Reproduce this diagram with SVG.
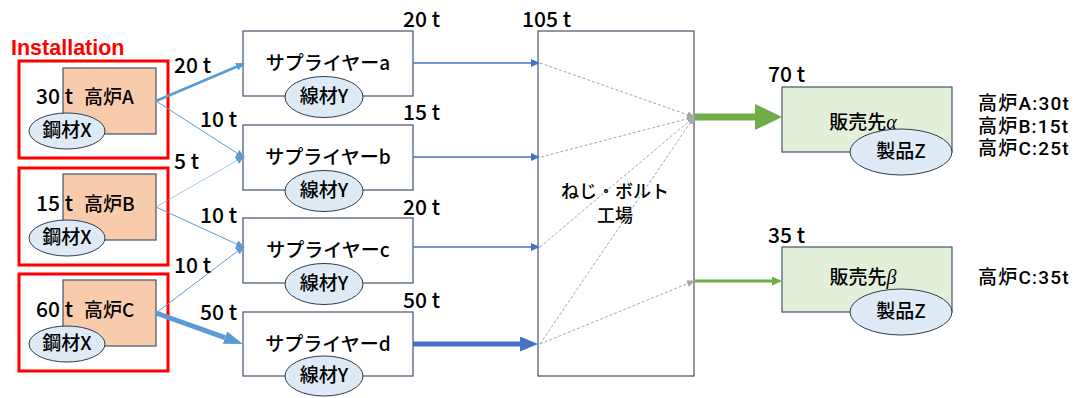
<svg xmlns="http://www.w3.org/2000/svg" width="1083" height="398" viewBox="0 0 1083 398">
<style>
.jp{font-family:"Noto Sans CJK JP","Liberation Sans",sans-serif;font-size:19px;font-weight:500;fill:#000}
.num{font-family:"Noto Sans CJK JP","Liberation Sans",sans-serif;font-size:21px;font-weight:500;fill:#000}
.rt{font-family:Roboto,"Noto Sans CJK JP",sans-serif;font-size:19px;font-weight:500;letter-spacing:1.2px;fill:#000}
.fac{font-family:Roboto,"Noto Sans CJK JP",sans-serif;font-size:18px;font-weight:500;fill:#000}
.red{fill:none;stroke:#FF0000;stroke-width:3}
.furn{fill:#F8CBAD;stroke:#44546A;stroke-width:1.2}
.mat{fill:#DEEBF7;stroke:#2F3B4C;stroke-width:1}
.box{fill:#fff;stroke:#44546A;stroke-width:1.2}
.sale{fill:#E2F0D9;stroke:#44546A;stroke-width:1.2}
.lb{stroke:#5B9BD5;fill:none}
.db{stroke:#4472C4;fill:none}
.gr{stroke:#A6A6A6;stroke-width:1;stroke-dasharray:3 2;fill:none}
.gn{stroke:#70AD47;fill:none}
</style>
<defs>
<marker id="mBlueS" markerUnits="userSpaceOnUse" markerWidth="9" markerHeight="8" refX="7" refY="4" orient="auto"><path d="M0,0 L9,4 L0,8 z" fill="#5B9BD5"/></marker>
<marker id="mBlueL" markerUnits="userSpaceOnUse" markerWidth="19" markerHeight="13" refX="0" refY="6.5" orient="auto"><path d="M0,0 L19,6.5 L0,13 z" fill="#5B9BD5"/></marker>
<marker id="mDarkS" markerUnits="userSpaceOnUse" markerWidth="9" markerHeight="8" refX="7" refY="4" orient="auto"><path d="M0,0 L9,4 L0,8 z" fill="#4472C4"/></marker>
<marker id="mDarkL" markerUnits="userSpaceOnUse" markerWidth="18" markerHeight="15" refX="0" refY="7.5" orient="auto"><path d="M0,0 L18,7.5 L0,15 z" fill="#4472C4"/></marker>
<marker id="mGray" markerUnits="userSpaceOnUse" markerWidth="8" markerHeight="7" refX="7" refY="3.5" orient="auto"><path d="M0,0 L8,3.5 L0,7 z" fill="#A6A6A6"/></marker>
<marker id="mGreenL" markerUnits="userSpaceOnUse" markerWidth="27" markerHeight="26" refX="0" refY="13" orient="auto"><path d="M0,0 L27,13 L0,26 z" fill="#70AD47"/></marker>
<marker id="mGreenS" markerUnits="userSpaceOnUse" markerWidth="10" markerHeight="9" refX="0" refY="4.5" orient="auto"><path d="M0,0 L10,4.5 L0,9 z" fill="#70AD47"/></marker>
</defs>

<text x="11" y="55" font-family="Liberation Sans, sans-serif" font-size="21.5" font-weight="bold" fill="#FF0000">Installation</text>

<g id="furnaceA">
<rect class="red" x="19" y="61" width="149" height="97"/>
<rect class="furn" x="63" y="68" width="93" height="66"/>
<text class="num" x="36" y="104">30 t</text>
<text class="jp" x="84" y="104">高炉A</text>
<ellipse class="mat" cx="67" cy="131" rx="38" ry="18"/>
<text class="jp" x="67" y="137" text-anchor="middle">鋼材X</text>
</g>
<g id="furnaceB">
<rect class="red" x="19" y="168" width="149" height="97"/>
<rect class="furn" x="63" y="174" width="93" height="66"/>
<text class="num" x="36" y="211">15 t</text>
<text class="jp" x="84" y="211">高炉B</text>
<ellipse class="mat" cx="67" cy="238" rx="38" ry="18"/>
<text class="jp" x="67" y="244" text-anchor="middle">鋼材X</text>
</g>
<g id="furnaceC">
<rect class="red" x="19" y="274" width="149" height="97"/>
<rect class="furn" x="63" y="280" width="93" height="66"/>
<text class="num" x="36" y="317">60 t</text>
<text class="jp" x="84" y="317">高炉C</text>
<ellipse class="mat" cx="67" cy="344" rx="38" ry="18"/>
<text class="jp" x="67" y="350" text-anchor="middle">鋼材X</text>
</g>

<g id="supplierA">
<rect class="box" x="243" y="31" width="170" height="65"/>
<text class="jp" x="328" y="70" text-anchor="middle">サプライヤーa</text>
<ellipse class="mat" cx="324" cy="97" rx="39" ry="20.5"/>
<text class="jp" x="324" y="103" text-anchor="middle">線材Y</text>
<text class="num" x="403" y="27">20 t</text>
</g>
<g id="supplierB">
<rect class="box" x="243" y="125" width="170" height="65"/>
<text class="jp" x="328" y="164" text-anchor="middle">サプライヤーb</text>
<ellipse class="mat" cx="324" cy="191" rx="39" ry="20.5"/>
<text class="jp" x="324" y="197" text-anchor="middle">線材Y</text>
<text class="num" x="403" y="120">15 t</text>
</g>
<g id="supplierC">
<rect class="box" x="243" y="218" width="170" height="65"/>
<text class="jp" x="328" y="257" text-anchor="middle">サプライヤーc</text>
<ellipse class="mat" cx="324" cy="284" rx="39" ry="20.5"/>
<text class="jp" x="324" y="290" text-anchor="middle">線材Y</text>
<text class="num" x="403" y="215">20 t</text>
</g>
<g id="supplierD">
<rect class="box" x="243" y="312" width="170" height="64"/>
<text class="jp" x="328" y="351" text-anchor="middle">サプライヤーd</text>
<ellipse class="mat" cx="324" cy="376" rx="39" ry="20"/>
<text class="jp" x="324" y="382" text-anchor="middle">線材Y</text>
<text class="num" x="403" y="308">50 t</text>
</g>

<g id="factory">
<rect class="box" x="538" y="31" width="156" height="345" stroke="#2F3B5C"/>
<text class="fac" x="615" y="198" text-anchor="middle">ねじ・ボルト</text>
<text class="fac" x="615" y="222" text-anchor="middle">工場</text>
<text class="num" x="522" y="27">105 t</text>
</g>

<g id="customerAlpha">
<rect class="sale" x="782" y="87" width="170" height="65"/>
<text class="jp" x="863" y="129" text-anchor="middle">販売先<tspan font-family="Liberation Serif, serif" font-style="italic" font-size="20">α</tspan></text>
<ellipse class="mat" cx="901" cy="152" rx="51" ry="23"/>
<text class="jp" x="901" y="158" text-anchor="middle">製品Z</text>
<text class="num" x="768" y="82">70 t</text>
<text class="rt" x="978" y="110">高炉A:30t</text>
<text class="rt" x="978" y="132.5">高炉B:15t</text>
<text class="rt" x="978" y="155">高炉C:25t</text>
</g>
<g id="customerBeta">
<rect class="sale" x="782" y="247" width="170" height="65"/>
<text class="jp" x="863" y="284" text-anchor="middle">販売先<tspan font-family="Liberation Serif, serif" font-style="italic" font-size="20">β</tspan></text>
<ellipse class="mat" cx="901" cy="312" rx="51" ry="23"/>
<text class="jp" x="901" y="318" text-anchor="middle">製品Z</text>
<text class="num" x="768" y="243">35 t</text>
<text class="rt" x="978" y="284">高炉C:35t</text>
</g>

<g id="connectors">
<line class="lb" x1="156" y1="101" x2="243" y2="64" stroke-width="2.5" marker-end="url(#mBlueS)"/>
<line class="lb" x1="156" y1="101" x2="243" y2="157" stroke-width="1" marker-end="url(#mBlueS)"/>
<line class="lb" x1="156" y1="207" x2="243" y2="157" stroke-width="0.8" stroke-opacity="0.7" marker-end="url(#mBlueS)"/>
<line class="lb" x1="156" y1="207" x2="243" y2="247" stroke-width="1" marker-end="url(#mBlueS)"/>
<line class="lb" x1="156" y1="313" x2="243" y2="247" stroke-width="1" marker-end="url(#mBlueS)"/>
<line class="lb" x1="156" y1="313" x2="225" y2="337.6" stroke-width="5" marker-end="url(#mBlueL)"/>
<text class="num" x="174" y="73">20 t</text>
<text class="num" x="200" y="127">10 t</text>
<text class="num" x="174" y="169">5 t</text>
<text class="num" x="200" y="223">10 t</text>
<text class="num" x="174" y="273">10 t</text>
<text class="num" x="200" y="320">50 t</text>

<line class="db" x1="413" y1="63" x2="538" y2="63" stroke-width="1.5" marker-end="url(#mDarkS)"/>
<line class="db" x1="413" y1="157" x2="538" y2="157" stroke-width="1.5" marker-end="url(#mDarkS)"/>
<line class="db" x1="413" y1="247" x2="538" y2="247" stroke-width="1.5" marker-end="url(#mDarkS)"/>
<line class="db" x1="413" y1="344" x2="520" y2="344" stroke-width="5" marker-end="url(#mDarkL)"/>

<line class="gr" x1="540" y1="63" x2="694" y2="117" marker-end="url(#mGray)"/>
<line class="gr" x1="541" y1="157" x2="694" y2="117" marker-end="url(#mGray)"/>
<line class="gr" x1="540" y1="247" x2="694" y2="117" marker-end="url(#mGray)"/>
<line class="gr" x1="540" y1="344" x2="694" y2="117" marker-end="url(#mGray)"/>
<line class="gr" x1="540" y1="344" x2="694" y2="281" marker-end="url(#mGray)"/>

<line class="gn" x1="695" y1="117" x2="755" y2="117" stroke-width="7" marker-end="url(#mGreenL)"/>
<line class="gn" x1="695" y1="281" x2="772" y2="281" stroke-width="3" marker-end="url(#mGreenS)"/>
</g>
</svg>
